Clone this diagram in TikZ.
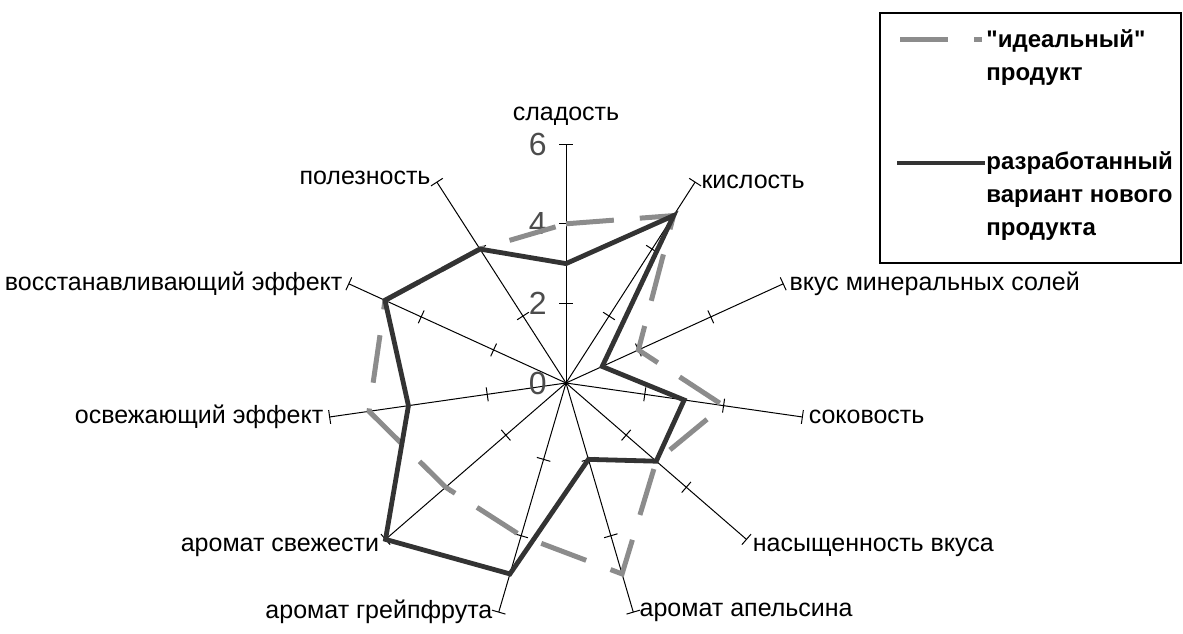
\documentclass[tikz,border=0pt]{standalone}
\usepackage{fontspec}
\setmainfont{Liberation Sans}[Ligatures=TeXOff]
\usetikzlibrary{calc}
\definecolor{idealgray}{HTML}{8C8C8C}
\definecolor{madegray}{HTML}{333333}

\begin{document}
\begin{tikzpicture}[x=0.5pt,y=0.5pt,
    axis/.style={line width=0.5pt},
    ideal/.style={idealgray,line width=2.5pt,dash pattern=on 24pt off 13pt},
    made/.style={madegray,line width=2.4pt},
    lbl/.style={font=\fontsize{12.5}{15}\selectfont,inner sep=3pt},
    num/.style={font=\fontsize{16}{18}\selectfont,black!70,anchor=east,inner sep=0pt},
    leg/.style={font=\bfseries\fontsize{12}{16.5}\selectfont,align=left,anchor=north west,inner sep=0pt}]

\useasboundingbox (0,0) rectangle (1183,633);
\coordinate (o) at (566,250);

\foreach \k in {0,...,10}{
  \pgfmathsetmacro\a{90-\k*360/11}
  \draw[axis] (o) -- ($(o)+(\a:238.8)$) coordinate (e\k);
  \foreach \r in {79.6,159.2,238.8}
    \draw[axis] ($(o)+(\a:\r)+(\a+90:7)$) -- ($(o)+(\a:\r)+(\a-90:7)$);
}

\foreach \n in {0,2,4,6}
  \node[num] (n\n) at ($(o)+(-19,\n*39.8)$) {\n};

\foreach \k/\v in {0/4,1/5,2/2,3/4,4/3,5/5,6/4,7/4,8/5,9/5,10/4}{
  \pgfmathsetmacro\a{90-\k*360/11}
  \pgfmathsetmacro\d{\v*39.8}
  \coordinate (i\k) at ($(o)+(\a:\d)$);
}
\foreach \k/\v in {0/3,1/5,2/1,3/3,4/3,5/2,6/5,7/6,8/4,9/5,10/4}{
  \pgfmathsetmacro\a{90-\k*360/11}
  \pgfmathsetmacro\d{\v*39.8}
  \coordinate (m\k) at ($(o)+(\a:\d)$);
}

\draw[ideal] (i0) \foreach \k in {1,...,10}{ -- (i\k)} -- cycle;
\draw[made] (m0) \foreach \k in {1,...,10}{ -- (m\k)} -- cycle;

\node[lbl,anchor=south,yshift=6pt] (t0) at (e0) {сладость};
\node[lbl,anchor=west] (t1) at (e1) {кислость};
\node[lbl,anchor=west] (t2) at (e2) {вкус минеральных солей};
\node[lbl,anchor=west] (t3) at (e3) {соковость};
\node[lbl,anchor=west,yshift=-4pt] (t4) at (e4) {насыщенность вкуса};
\node[lbl,anchor=west] (t5) at (e5) {аромат апельсина};
\node[lbl,anchor=east] (t6) at (e6) {аромат грейпфрута};
\node[lbl,anchor=east,yshift=-4pt] (t7) at (e7) {аромат свежести};
\node[lbl,anchor=east] (t8) at (e8) {освежающий эффект};
\node[lbl,anchor=east] (t9) at (e9) {восстанавливающий эффект};
\node[lbl,anchor=east,yshift=2pt] (t10) at (e10) {полезность};

\draw[line width=0.8pt] (880,370) rectangle (1181,620);
\draw[ideal] (900,593) -- (982,593);
\node[leg] (li) at (986,604) {"идеальный"\\продукт};
\draw[made] (897,470) -- (985,470);
\node[leg] (lm) at (986,482) {разработанный\\вариант нового\\продукта};

\end{tikzpicture}
\end{document}
